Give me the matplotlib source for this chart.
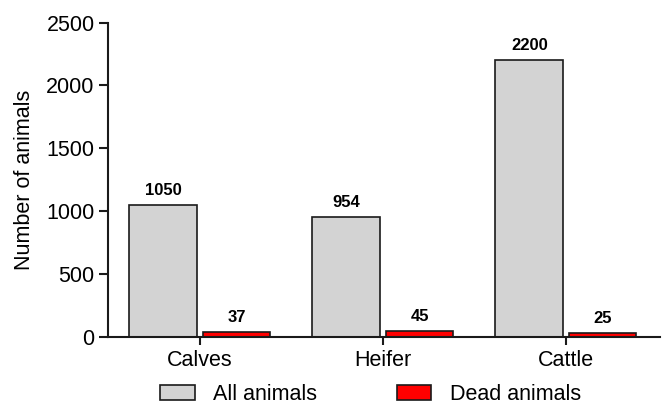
import numpy as np
import matplotlib
matplotlib.use("Agg")
import matplotlib.pyplot as plt
from matplotlib import rcParams

rcParams['font.family'] = ['Liberation Sans', 'DejaVu Sans']
rcParams['font.size'] = 15.5

categories = ["Calves", "Heifer", "Cattle"]
all_animals = [1050, 954, 2200]
dead_animals = [37, 45, 25]
series_names = ["All animals", "Dead animals"]

fig = plt.figure(figsize=(6.62, 4.04), dpi=100)
ax = fig.add_axes([0.163, 0.167, 0.834, 0.777])

x = np.arange(len(categories))
w = 0.37
b1 = ax.bar(x - 0.2, all_animals, w, color="#d3d3d3", edgecolor="#1a1a1a",
            linewidth=1.2, label=series_names[0])
b2 = ax.bar(x + 0.2, dead_animals, w, color="#ff0000", edgecolor="#1a1a1a",
            linewidth=1.2, label=series_names[1])

for bars, vals in ((b1, all_animals), (b2, dead_animals)):
    for r, v in zip(bars, vals):
        ax.annotate(str(v), (r.get_x() + r.get_width() / 2, v),
                    xytext=(0, 5), textcoords="offset points",
                    ha="center", va="bottom", fontsize=12, fontweight="bold")

ax.set_xlim(-0.503, 2.514)
ax.set_ylim(0, 2500)
ax.set_yticks([0, 500, 1000, 1500, 2000, 2500])
ax.set_xticks(x)
ax.set_xticklabels(categories)
ax.set_ylabel("Number of animals", labelpad=8)

for s in ("top", "right"):
    ax.spines[s].set_visible(False)
for s in ("left", "bottom"):
    ax.spines[s].set_linewidth(1.5)
    ax.spines[s].set_color("#1a1a1a")
ax.tick_params(axis="y", length=6.5, width=1.5, pad=3, color="#1a1a1a")
ax.tick_params(axis="x", length=6, width=1.5, pad=4, color="#1a1a1a")

fig.legend(handles=[b1, b2], loc="center", bbox_to_anchor=(0.5597, 0.0235),
           ncol=2, frameon=False, borderpad=0, handlelength=1.6,
           handleheight=0.65, handletextpad=0.85, columnspacing=3.7,
           fontsize=15.5)

fig.savefig("out.png", dpi=100)
